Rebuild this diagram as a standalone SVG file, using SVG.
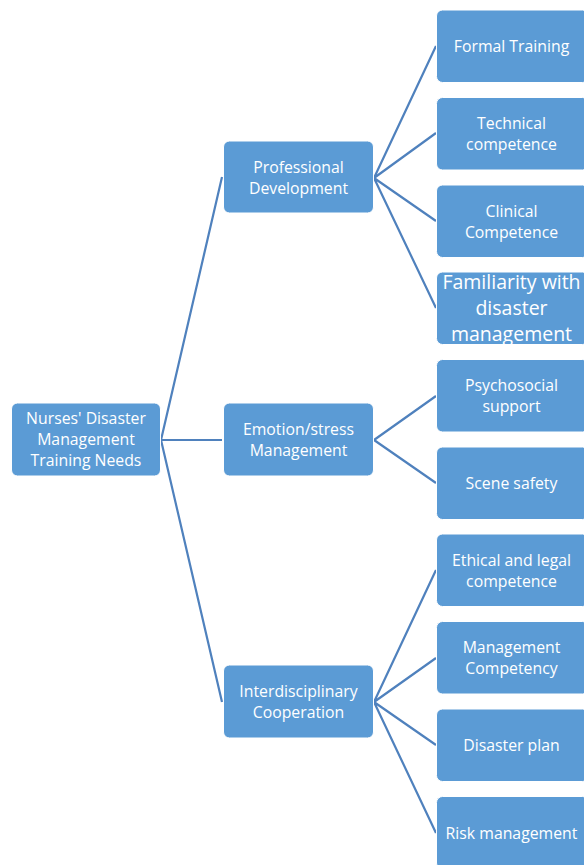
<svg xmlns="http://www.w3.org/2000/svg" width="584" height="865" viewBox="0 0 584 865">
<style>
.box{fill:#5b9bd5;stroke:#ffffff;stroke-width:1}
.t{font-family:"Open Sans","Noto Sans",sans-serif;font-size:15.8px;fill:#ffffff;text-anchor:middle}
.big{font-size:19.5px}
.c{stroke:#4f81bd;stroke-width:2.2;fill:none}
</style>
<rect width="584" height="865" fill="#ffffff"/>
<g id="connectors">
<path class="c" d="M161 440 L222 177 M161 440 L222 440 M161 440 L222 702"/>
<path class="c" d="M374 178 L436 46 M374 178 L436 133 M374 178 L436 221 M374 178 L436 308"/>
<path class="c" d="M374 440 L436 396 M374 440 L436 483"/>
<path class="c" d="M374 702 L436 570 M374 702 L436 658 M374 702 L436 745 M374 702 L436 833"/>
</g>
<g id="root"><rect class="box" x="11.5" y="403" width="149" height="73" rx="6"/>
<text class="t" x="86" y="424">Nurses' Disaster</text><text class="t" x="86" y="445">Management</text><text class="t" x="86" y="466">Training Needs</text></g>
<g id="professional"><rect class="box" x="223.5" y="141" width="150" height="72" rx="6"/>
<text class="t" x="298.5" y="172.5">Professional</text><text class="t" x="298.5" y="193.5">Development</text></g>
<g id="emotion"><rect class="box" x="223.5" y="403" width="150" height="73" rx="6"/>
<text class="t" x="298.5" y="435">Emotion/stress</text><text class="t" x="298.5" y="456">Management</text></g>
<g id="interdisciplinary"><rect class="box" x="223.5" y="665" width="150" height="73" rx="6"/>
<text class="t" x="298.5" y="697">Interdisciplinary</text><text class="t" x="298.5" y="718">Cooperation</text></g>
<g id="formal"><rect class="box" x="436.5" y="10" width="152" height="72.5" rx="6"/>
<text class="t" x="511.5" y="52">Formal Training</text></g>
<g id="technical"><rect class="box" x="436.5" y="97.5" width="152" height="72.5" rx="6"/>
<text class="t" x="511.5" y="129">Technical</text><text class="t" x="511.5" y="150">competence</text></g>
<g id="clinical"><rect class="box" x="436.5" y="185" width="152" height="72.5" rx="6"/>
<text class="t" x="511.5" y="216.5">Clinical</text><text class="t" x="511.5" y="237.5">Competence</text></g>
<g id="familiarity"><rect class="box" x="436.5" y="272" width="152" height="72.5" rx="6"/>
<text class="t big" x="511.5" y="289">Familiarity with</text><text class="t big" x="511.5" y="315">disaster</text><text class="t big" x="511.5" y="341">management</text></g>
<g id="psychosocial"><rect class="box" x="436.5" y="359.5" width="152" height="72.5" rx="6"/>
<text class="t" x="511.5" y="391">Psychosocial</text><text class="t" x="511.5" y="412">support</text></g>
<g id="scene"><rect class="box" x="436.5" y="447" width="152" height="72.5" rx="6"/>
<text class="t" x="511.5" y="489">Scene safety</text></g>
<g id="ethical"><rect class="box" x="436.5" y="534" width="152" height="72.5" rx="6"/>
<text class="t" x="511.5" y="565.5">Ethical and legal</text><text class="t" x="511.5" y="586.5">competence</text></g>
<g id="management"><rect class="box" x="436.5" y="621.5" width="152" height="72.5" rx="6"/>
<text class="t" x="511.5" y="653">Management</text><text class="t" x="511.5" y="674">Competency</text></g>
<g id="plan"><rect class="box" x="436.5" y="709" width="152" height="72.5" rx="6"/>
<text class="t" x="511.5" y="751">Disaster plan</text></g>
<g id="risk"><rect class="box" x="436.5" y="796.5" width="152" height="72.5" rx="6"/>
<text class="t" x="511.5" y="838.5">Risk management</text></g>
</svg>
